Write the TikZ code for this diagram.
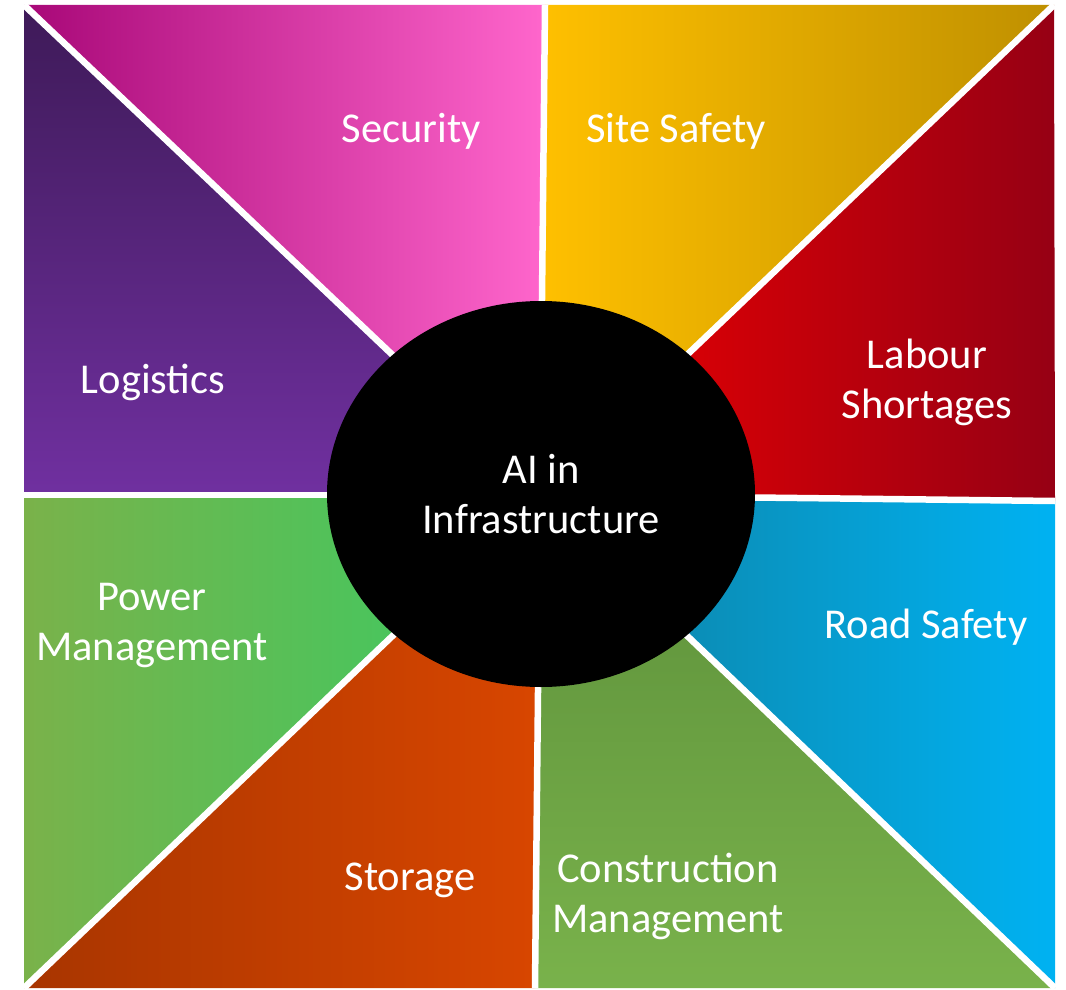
\documentclass[tikz,border=0pt]{standalone}
\usepackage{fontspec}
\setmainfont{Carlito}
% Farben (links/rechts bzw. oben/unten)
\definecolor{secL}{RGB}{168,8,120}
\definecolor{secR}{RGB}{255,102,204}
\definecolor{siteL}{RGB}{255,192,0}
\definecolor{siteR}{RGB}{191,144,0}
\definecolor{labL}{RGB}{240,0,0}
\definecolor{labR}{RGB}{150,0,20}
\definecolor{roadL}{RGB}{15,127,159}
\definecolor{roadR}{RGB}{0,178,242}
\definecolor{conT}{RGB}{92,143,58}
\definecolor{conB}{RGB}{121,178,75}
\definecolor{stoL}{RGB}{168,53,0}
\definecolor{stoR}{RGB}{216,70,0}
\definecolor{powL}{RGB}{122,178,74}
\definecolor{powR}{RGB}{55,204,100}
\definecolor{logT}{RGB}{62,26,88}
\definecolor{logB}{RGB}{112,48,160}
\begin{document}
\begin{tikzpicture}[x=1pt,y=-1pt,line join=round,
	lbl/.style={text=white,align=center,anchor=base,font=\fontsize{42.5}{50}\selectfont}]
	\useasboundingbox (0,0) rectangle (1066,990);
	\coordinate (m) at (540,495);
	\coordinate (tl) at (24,5);
	\coordinate (t) at (545,5);
	\coordinate (tr) at (1054,5);
	\coordinate (r) at (1055,501);
	\coordinate (br) at (1055,988);
	\coordinate (b) at (535,988);
	\coordinate (bl) at (24,988);
	\coordinate (l) at (24,495);
	% Dreiecke
	\shade [left color=secL, right color=secR] (tl) -- (t) -- (m) -- cycle;
	\shade [left color=siteL, right color=siteR] (t) -- (tr) -- (m) -- cycle;
	\shade [left color=labL, right color=labR] (tr) -- (r) -- (m) -- cycle;
	\shade [left color=roadL, right color=roadR] (r) -- (br) -- (m) -- cycle;
	\shade [top color=conT, bottom color=conB] (br) -- (b) -- (m) -- cycle;
	\shade [left color=stoL, right color=stoR] (b) -- (bl) -- (m) -- cycle;
	\shade [left color=powL, right color=powR] (bl) -- (l) -- (m) -- cycle;
	\shade [top color=logT, bottom color=logB] (l) -- (tl) -- (m) -- cycle;
	% Trennlinien
	\foreach \p in {tl,t,tr,r,br,b,bl,l}
		\draw [white, line width=6.5pt] (m) -- (\p);
	% Mitte
	\fill (541,494) ellipse [x radius=214, y radius=193];
	\node [lbl] (ai) at (541,533) {AI in\\Infrastructure};
	% Beschriftungen (Grundlinie der letzten Zeile)
	\node [lbl] (security) at (411,142) {Security};
	\node [lbl] (site) at (676,142) {Site Safety};
	\node [lbl] (labour) at (927,418) {Labour\\Shortages};
	\node [lbl] (road) at (926,638) {Road Safety};
	\node [lbl] (constr) at (668,932) {Construction\\Management};
	\node [lbl] (storage) at (410,890) {Storage};
	\node [lbl] (power) at (152,660) {Power\\Management};
	\node [lbl] (logistics) at (153,393) {Logistics};
\end{tikzpicture}
\end{document}
